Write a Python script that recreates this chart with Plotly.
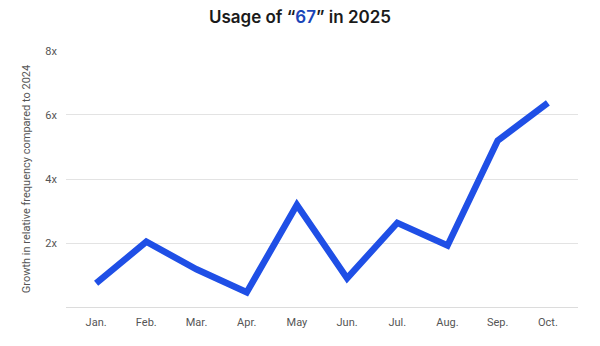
import plotly.graph_objects as go

months = ["Jan.", "Feb.", "Mar.", "Apr.", "May", "Jun.", "Jul.", "Aug.", "Sep.", "Oct."]
growth = [0.74, 2.04, 1.18, 0.46, 3.19, 0.90, 2.63, 1.92, 5.20, 6.38]
y_tickvals = [0, 2, 4, 6, 8]
y_ticktext = ["", "2x", "4x", "6x", "8x"]

fig = go.Figure()
fig.add_trace(go.Scatter(
    x=list(range(len(months))), y=growth, mode="lines",
    line=dict(color="#1f4fe6", width=6.5),
    hoverinfo="skip",
))

fig.update_layout(
    width=600, height=346,
    margin=dict(l=66, r=22, t=50, b=38),
    paper_bgcolor="white", plot_bgcolor="white",
    showlegend=False,
    font=dict(family="Roboto, Inter, sans-serif", color="#555555", size=11),
    title=dict(
        text="Usage of “<span style='color:#1a45b8'>67</span>” in 2025",
        x=0.5, xanchor="center", y=0.95, yanchor="middle",
        font=dict(family="Inter, Roboto, sans-serif", size=17, color="#1a1a1a", weight=600),
    ),
    xaxis=dict(
        tickvals=list(range(len(months))), ticktext=months,
        range=[-0.6, len(months) - 0.4],
        showgrid=False, zeroline=False, showline=False,
        ticks="", ticklabelstandoff=6,
        tickfont=dict(size=11, color="#555555"),
    ),
    yaxis=dict(
        tickvals=y_tickvals, ticktext=y_ticktext,
        range=[-0.03, 8.03],
        showgrid=True, gridcolor="#e3e3e3", gridwidth=1,
        zeroline=True, zerolinecolor="#dcdcdc", zerolinewidth=1,
        showline=False, ticks="",
        ticklabelstandoff=8,
        tickfont=dict(size=11, color="#555555"),
        title=dict(text="Growth in relative frequency compared to 2024",
                   font=dict(size=11, color="#555555"), standoff=12),
    ),
)

fig.write_html("out.html")
